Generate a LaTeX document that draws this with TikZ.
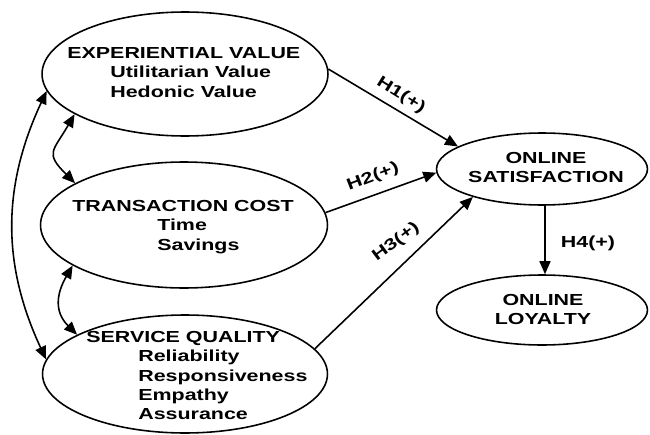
\documentclass[tikz,border=0pt]{standalone}
\usepackage{fontspec}
\newfontfamily\diagfont[FakeStretch=1.34]{Liberation Sans}
\usepackage{tikz}
\usetikzlibrary{shapes,arrows.meta,positioning}

\begin{document}
\begin{tikzpicture}[x=0.02cm,y=0.02cm,
    construct/.style={ellipse,draw,line width=0.9pt},
    txt/.style={inner sep=0pt,font=\diagfont\bfseries\fontsize{9.1}{11}\selectfont},
    hyp/.style={line width=0.9pt,-{Triangle[length=0.26cm,width=0.22cm]}},
    corr/.style={line width=0.9pt,{Triangle[length=0.26cm,width=0.22cm]}-{Triangle[length=0.26cm,width=0.22cm]}}]
    \useasboundingbox (0,0) rectangle (650,434);
    % Constructs
    \node[construct,minimum width=5.72cm,minimum height=2.48cm] (ev) at (185,360) {};
    \node[construct,minimum width=5.74cm,minimum height=2.52cm] (tc) at (184,209) {};
    \node[construct,minimum width=5.70cm,minimum height=2.36cm] (sq) at (185,60) {};
    \node[construct,minimum width=4.22cm,minimum height=1.44cm] (os) at (542,265) {};
    \node[construct,minimum width=4.22cm,minimum height=1.40cm] (ol) at (542,124) {};
    % Texts
    \node[txt,anchor=north west,align=left] (evtext) at (67,387)
        {EXPERIENTIAL VALUE\\ \hspace*{0.86cm}Utilitarian Value\\ \hspace*{0.86cm}Hedonic Value};
    \node[txt,anchor=north west,align=left] (tctext) at (72,234)
        {TRANSACTION COST\\ \hspace*{1.7cm}Time\\ \hspace*{1.7cm}Savings};
    \node[txt,anchor=north west,align=left] (sqtext) at (86,103)
        {SERVICE QUALITY\\ \hspace*{1.04cm}Reliability\\ \hspace*{1.04cm}Responsiveness\\
         \hspace*{1.04cm}Empathy\\ \hspace*{1.04cm}Assurance};
    \node[txt,anchor=north,align=center] (ostext) at (546,282) {ONLINE\\SATISFACTION};
    \node[txt,anchor=north,align=center] (oltext) at (543,140) {ONLINE\\LOYALTY};
    % Hypotheses
    \draw[hyp] (ev.2) -- (os.165);
    \draw[hyp] (tc.5) -- (os.182);
    \draw[hyp] (sq.11) -- (os.202);
    \draw[hyp] ([xshift=0.06cm]os.south) -- ([xshift=0.06cm]ol.north);
    \node[txt,rotate=-32] (h1) at (401,339) {H1(+)};
    \node[txt,rotate=21] (h2) at (373,257) {H2(+)};
    \node[txt,rotate=37] (h3) at (396,192) {H3(+)};
    \node[txt] (h4) at (588,191) {H4(+)};
    % Correlations
    \draw[corr] (ev.187) to[out=245,in=115] (sq.174);
    \draw[corr] (ev.200) to[out=240,in=135,looseness=1.6] (tc.159);
    \draw[corr] (tc.200) to[out=240,in=135,looseness=1.2] (sq.160);
\end{tikzpicture}
\end{document}
